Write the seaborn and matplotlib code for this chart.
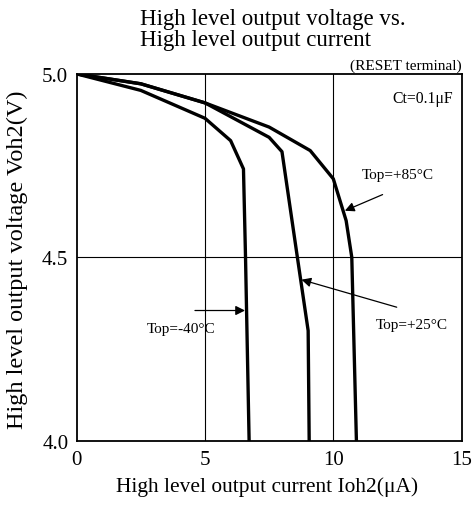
import matplotlib
matplotlib.use("Agg")
import matplotlib.pyplot as plt
import seaborn as sns
import pandas as pd

sns.set_theme(style="white")
plt.rcParams['font.family'] = ['Liberation Serif', 'DejaVu Serif']
plt.rcParams['mathtext.fontset'] = 'stix'

# Data
x_m40 = [0, 2.5, 5.0, 6.0, 6.5, 6.58, 6.72]
y_m40 = [5.0, 4.955, 4.879, 4.818, 4.741, 4.5, 4.0]
x_p25 = [0, 2.5, 5.0, 7.5, 8.0, 8.6, 9.02, 9.06]
y_p25 = [5.0, 4.973, 4.921, 4.827, 4.788, 4.5, 4.3, 4.0]
x_p85 = [0, 2.5, 5.0, 7.5, 9.1, 10.0, 10.5, 10.72, 10.9]
y_p85 = [5.0, 4.973, 4.921, 4.855, 4.791, 4.714, 4.6, 4.5, 4.0]
series_labels = ["Top=-40°C", "Top=+25°C", "Top=+85°C"]
x_ticks = [0, 5, 10, 15]
y_ticks = [4.0, 4.5, 5.0]

fig = plt.figure(figsize=(4.73, 5.06), dpi=100)
ax = fig.add_axes([0.162, 0.127, 0.814, 0.725])

for xs, ys, lab in zip([x_m40, x_p25, x_p85], [y_m40, y_p25, y_p85], series_labels):
    df = pd.DataFrame({"x": xs, "y": ys})
    sns.lineplot(data=df, x="x", y="y", ax=ax, color="black", lw=2.4,
                 sort=False, estimator=None)

ax.set_xlim(0, 15)
ax.set_ylim(4.0, 5.0)
ax.set_xticks(x_ticks)
ax.set_xticklabels([str(t) for t in x_ticks])
ax.set_yticks(y_ticks)
ax.set_yticklabels([f"{t:.1f}" for t in y_ticks])
ax.tick_params(length=0, labelsize=15, colors="black")
ax.tick_params(axis="x", pad=7)
ax.tick_params(axis="y", pad=6)
for s in ax.spines.values():
    s.set_color("black")
    s.set_linewidth(1.3)
for v in [5, 10]:
    ax.axvline(v, color="black", lw=0.8, zorder=0)
ax.axhline(4.5, color="black", lw=0.8, zorder=0)

ax.set_xlabel("High level output current Ioh2(μA)", fontsize=15.4, color="black")
ax.set_ylabel("High level output voltage Voh2(V)", fontsize=17.5, color="black")
ax.xaxis.set_label_coords(0.495, -0.098)
ax.yaxis.set_label_coords(-0.125, 0.495)

fig.text(0.296, 0.983, "High level output voltage vs.\nHigh level output current",
         fontsize=16.5, ha="left", va="top", linespacing=1.03, color="black")
ax.text(1.0, 1.005, "(RESET terminal)", transform=ax.transAxes, ha="right", va="bottom",
        fontsize=11, color="black")
ax.text(14.66, 4.935, "Ct=0.1μF", ha="right", va="center", fontsize=11.3, color="black")

arrow = dict(arrowstyle="-|>", color="black", lw=0.9, mutation_scale=14, shrinkA=0, shrinkB=0)
ax.annotate("", xy=(6.56, 4.355), xytext=(4.61, 4.355), arrowprops=arrow)
ax.text(4.08, 4.307, series_labels[0], ha="center", va="center", fontsize=11, color="black")
ax.annotate("", xy=(8.76, 4.439), xytext=(12.47, 4.364), arrowprops=arrow)
ax.text(13.05, 4.318, series_labels[1], ha="center", va="center", fontsize=11, color="black")
ax.annotate("", xy=(10.45, 4.627), xytext=(11.92, 4.671), arrowprops=arrow)
ax.text(12.53, 4.727, series_labels[2], ha="center", va="center", fontsize=11, color="black")

fig.savefig("out.png", dpi=100, facecolor="white")
